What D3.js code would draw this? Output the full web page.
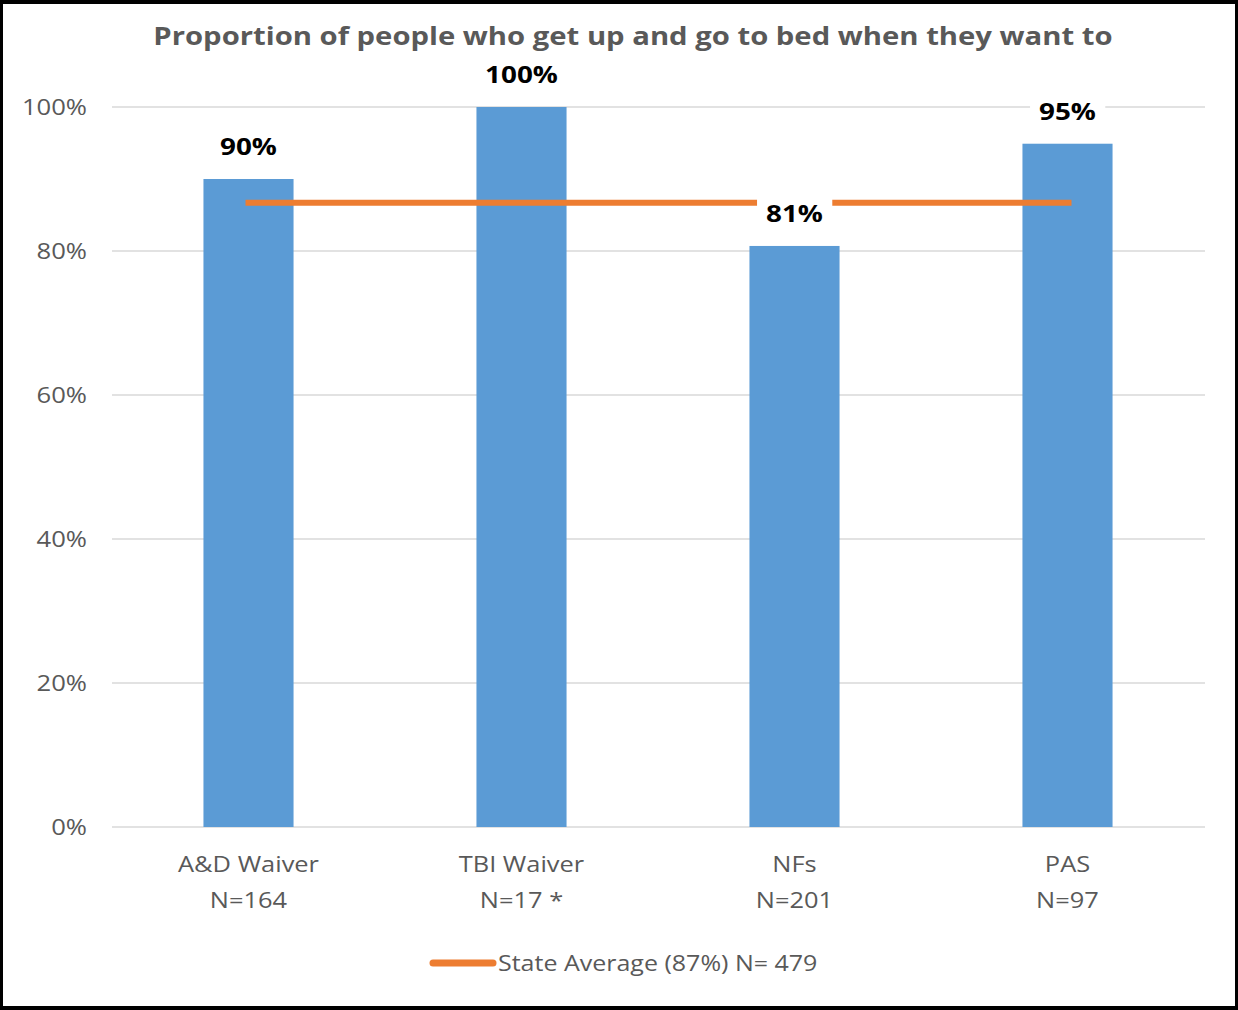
<!DOCTYPE html>
<html>
<head>
<meta charset="utf-8">
<script src="https://cdn.jsdelivr.net/npm/d3@7/dist/d3.min.js"></script>
<style>
  html, body { margin: 0; padding: 0; background: #fff; }
  svg { display: block; }
</style>
</head>
<body>
<svg id="chart" width="1238" height="1010"></svg>
<script>
const title = "Proportion of people who get up and go to bed when they want to";
const categories = ["A&D Waiver", "TBI Waiver", "NFs", "PAS"];
const sampleSizes = ["N=164", "N=17 *", "N=201", "N=97"];
const values = [0.90, 1.00, 0.807, 0.949];
const valueLabels = ["90%", "100%", "81%", "95%"];
const stateAverage = 0.867;
const legendLabel = "State Average (87%) N= 479";
const yTicks = [0, 0.2, 0.4, 0.6, 0.8, 1.0];

const W = 1238, H = 1010;
const svg = d3.select("#chart");
const FONT = "'Open Sans', sans-serif";
const GRAY = "#595959";
const STRETCH = 1.2; // reference text is horizontally widened

function widen(sel, k) {
  sel.each(function () {
    const len = this.getComputedTextLength();
    d3.select(this).attr("textLength", len * (k || STRETCH)).attr("lengthAdjust", "spacingAndGlyphs");
  });
  return sel;
}

// frame
svg.append("rect").attr("x", 0).attr("y", 0).attr("width", W).attr("height", H).attr("fill", "#000");
svg.append("rect").attr("x", 3).attr("y", 4).attr("width", W - 6).attr("height", H - 8).attr("fill", "#fff");

const x = d3.scaleBand().domain(categories).range([112, 1204]).paddingInner(0.67).paddingOuter(0.335);
const y = d3.scaleLinear().domain([0, 1]).range([827, 107]);

// gridlines
svg.append("g").selectAll("line").data(yTicks).join("line")
  .attr("x1", 112).attr("x2", 1205)
  .attr("y1", d => y(d)).attr("y2", d => y(d))
  .attr("stroke", "#D9D9D9").attr("stroke-width", 1.5);

// y axis labels
const yAxis = d3.axisLeft(y).tickValues(yTicks).tickFormat(d3.format(".0%")).tickSize(0).tickPadding(0);
const yg = svg.append("g").attr("transform", "translate(87,0)").call(yAxis);
yg.select(".domain").remove();
yg.selectAll("text").attr("font-family", FONT).attr("font-size", 21).attr("fill", GRAY).attr("dy", "0.35em");
widen(yg.selectAll("text"), 1.22);

// bars
svg.append("g").selectAll("rect").data(values).join("rect")
  .attr("x", (d, i) => x(categories[i]))
  .attr("width", x.bandwidth())
  .attr("y", d => y(d))
  .attr("height", d => y(0) - y(d))
  .attr("fill", "#5B9BD5");

// state average line
svg.append("line")
  .attr("x1", x(categories[0]) + x.bandwidth() / 2 - 3)
  .attr("x2", x(categories[categories.length - 1]) + x.bandwidth() / 2 + 4)
  .attr("y1", y(stateAverage)).attr("y2", y(stateAverage))
  .attr("stroke", "#ED7D31").attr("stroke-width", 6);

// value labels with white background
const lg = svg.append("g");
values.forEach((v, i) => {
  const cx = x(categories[i]) + x.bandwidth() / 2;
  const g = lg.append("g");
  const bg = g.append("rect").attr("fill", "#fff");
  const t = g.append("text")
    .attr("x", cx).attr("y", y(v) - 24)
    .attr("text-anchor", "middle")
    .attr("font-family", FONT).attr("font-weight", "bold")
    .attr("font-size", 23).attr("fill", "#000")
    .text(valueLabels[i]);
  widen(t, 1.21);
  const b = t.node().getBBox();
  bg.attr("x", b.x - 9).attr("y", b.y - 2).attr("width", b.width + 18).attr("height", b.height + 4);
});

// category labels
const cg = svg.append("g");
categories.forEach((c, i) => {
  const cx = x(c) + x.bandwidth() / 2;
  cg.append("text").attr("x", cx).attr("y", 872).attr("text-anchor", "middle")
    .attr("font-family", FONT).attr("font-size", 21).attr("fill", GRAY).text(c);
  cg.append("text").attr("x", cx).attr("y", 908).attr("text-anchor", "middle")
    .attr("font-family", FONT).attr("font-size", 21).attr("fill", GRAY).text(sampleSizes[i]);
});
widen(cg.selectAll("text"), 1.21);

// title
const tt = svg.append("text").attr("x", 633).attr("y", 45).attr("text-anchor", "middle")
  .attr("font-family", FONT).attr("font-weight", "bold").attr("font-size", 25)
  .attr("fill", GRAY).text(title);
widen(tt, 1.17);

// legend
svg.append("line").attr("x1", 433).attr("x2", 493).attr("y1", 963).attr("y2", 963)
  .attr("stroke", "#ED7D31").attr("stroke-width", 7).attr("stroke-linecap", "round");
const lt = svg.append("text").attr("x", 498).attr("y", 971)
  .attr("font-family", FONT).attr("font-size", 21).attr("fill", GRAY).text(legendLabel);
widen(lt, 1.19);
</script>
</body>
</html>
